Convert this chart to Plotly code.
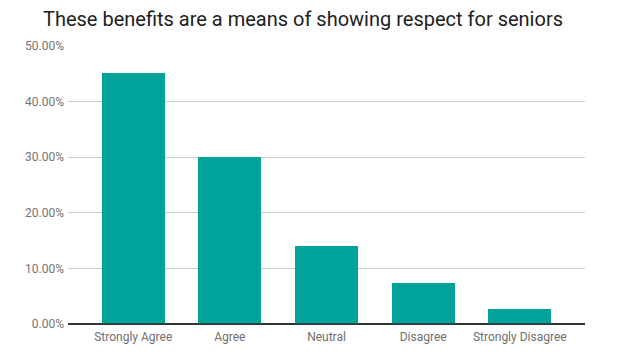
import plotly.graph_objects as go

categories = ["Strongly Agree", "Agree", "Neutral", "Disagree", "Strongly Disagree"]
values = [0.451, 0.301, 0.1407, 0.0742, 0.027]
tick_vals = [0, 0.1, 0.2, 0.3, 0.4, 0.5]
tick_text = ["0.00%", "10.00%", "20.00%", "30.00%", "40.00%", "50.00%"]

fig = go.Figure(go.Bar(
    x=list(range(len(categories))), y=values,
    marker=dict(color="#00a399", line=dict(width=0)),
    width=0.65,
))

fig.update_layout(
    width=621, height=354,
    margin=dict(l=60, r=44, t=38, b=38),
    paper_bgcolor="white", plot_bgcolor="white",
    font=dict(family="Roboto", color="#757575", size=12),
    title=dict(text="These benefits are a means of showing respect for seniors",
               font=dict(family="Roboto", size=20, color="#212121"),
               x=0.475, xanchor="center", y=0.968, yanchor="middle"),
    showlegend=False,
    bargap=0,
)
fig.update_xaxes(
    tickvals=list(range(len(categories))), ticktext=categories,
    range=[-0.675, 4.675], showgrid=False, showline=False, ticks="",
    zeroline=False, tickfont=dict(size=12, color="#6f6f6f"),
    ticklabelstandoff=4,
)
fig.update_yaxes(
    range=[0, 0.5], tickvals=tick_vals, ticktext=tick_text,
    showgrid=True, gridcolor="#cccccc", gridwidth=1,
    zeroline=True, zerolinecolor="#333333", zerolinewidth=1.5,
    showline=False, ticks="", ticklen=0, tickfont=dict(size=12, color="#757575"),
    ticklabelstandoff=3,
)
fig.add_shape(type="line", xref="paper", yref="y", x0=0, x1=1, y0=0, y1=0,
              line=dict(color="#333333", width=1.5))

fig.write_html("out.html")
